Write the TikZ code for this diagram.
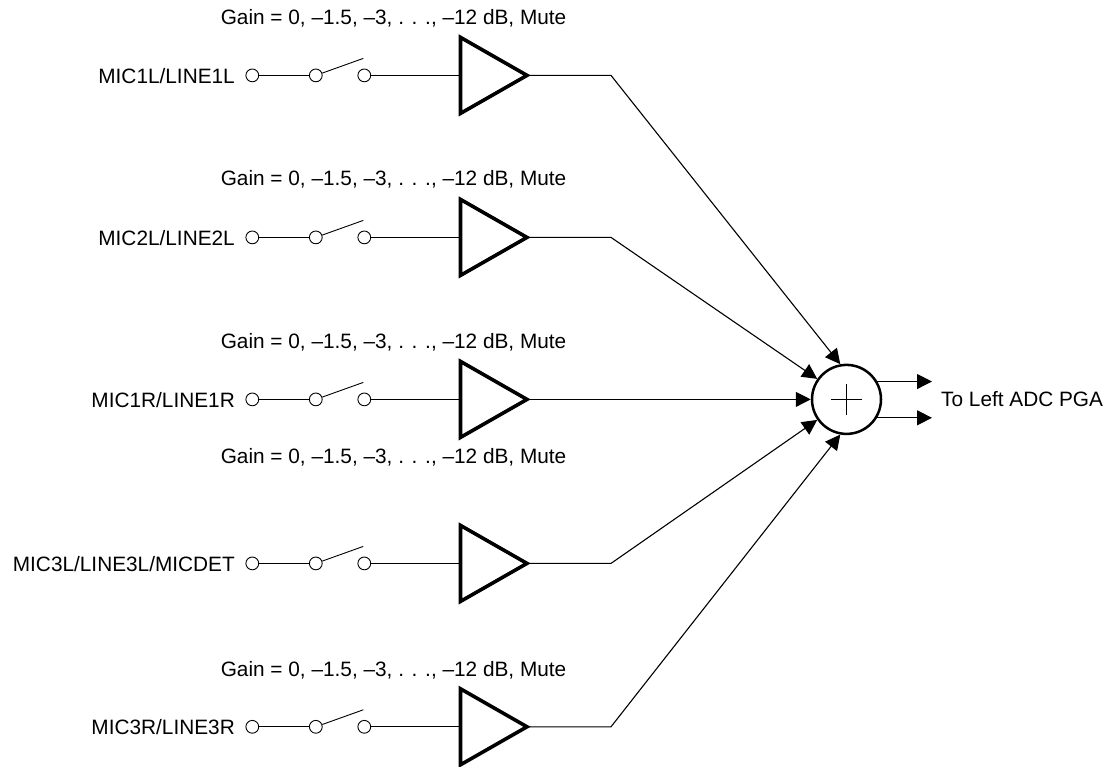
\documentclass[tikz,border=0pt]{standalone}
\usepackage{fontspec}
\setmainfont{Liberation Sans}
\usetikzlibrary{arrows.meta}
\tikzset{
  terminal/.style={circle,draw=black,fill=white,line width=0.9pt,minimum size=12.8pt,inner sep=0pt},
  wire/.style={draw=black,line width=1.1pt},
  arm/.style={draw=black,line width=0.9pt},
  amp/.style={draw=black,line width=3.6pt,miter limit=10},
  txt/.style={font=\fontsize{20.8}{25}\selectfont,text=black,inner sep=0pt},
  gain/.style={txt,anchor=base east},
  sig/.style={txt,anchor=base east},
  tip/.style={-{Triangle[length=15pt,width=15pt]}},
  summer/.style={circle,draw=black,line width=2.5pt,fill=white,minimum size=69pt,inner sep=0pt},
}
\begin{document}
\begin{tikzpicture}[x=1pt,y=-1pt]
\useasboundingbox (0,0) rectangle (1109,767);
\node[summer] (sum) at (846.5,399.4) {};
\draw[line width=0.8pt] (sum.center) ++(-15.5,0) -- ++(31,0);
\draw[line width=0.8pt] (sum.center) ++(0,-15.5) -- ++(0,31);
\foreach \n/\y/\gy/\lab/\ang in {
  1/75.4/24.4/MIC1L\slash LINE1L/100,
  2/237.4/186/MIC2L\slash LINE2L/145,
  3/399.4/349/MIC1R\slash LINE1R/180,
  4/563.4/463.5/MIC3L\slash LINE3L\slash MICDET/215,
  5/726.8/676/MIC3R\slash LINE3R/260}{
  \node[terminal] (a\n) at (252.3,\y) {};
  \node[terminal] (b\n) at (315.8,\y) {};
  \node[terminal] (c\n) at (364.3,\y) {};
  \coordinate (in\n) at (460.5,\y);
  \coordinate (out\n) at (527,\y);
  \coordinate (bend\n) at (611,\y);
  \coordinate (armend\n) at (363.3,\y-17);
  \draw[wire] (a\n) -- (b\n);
  \draw[arm] (b\n) -- (armend\n);
  \draw[wire] (c\n) -- (in\n);
  \draw[amp] (460.5,\y-38) -- (527,\y) -- (460.5,\y+38) -- cycle;
  \node[sig] (lab\n) at (235,\y+7.8) {\lab};
  \node[gain] (g\n) at (566.5,\gy) {Gain = 0, –1.5, –3, . . ., –12 dB, Mute};
  \ifnum\n=3
    \draw[wire,tip] (out\n) -- (sum.\ang);
  \else
    \draw[wire,tip] (out\n) -- (bend\n) -- (sum.\ang);
  \fi
}
\coordinate (o1) at (932,381);
\coordinate (o2) at (932,418);
\draw[wire,tip] (sum.30) -- (o1 |- sum.30);
\draw[wire,tip] (sum.-31) -- (o2 |- sum.-31);
\node[txt,anchor=base west] (outl) at (941,406.5) {To Left ADC PGA};
\end{tikzpicture}
\end{document}
